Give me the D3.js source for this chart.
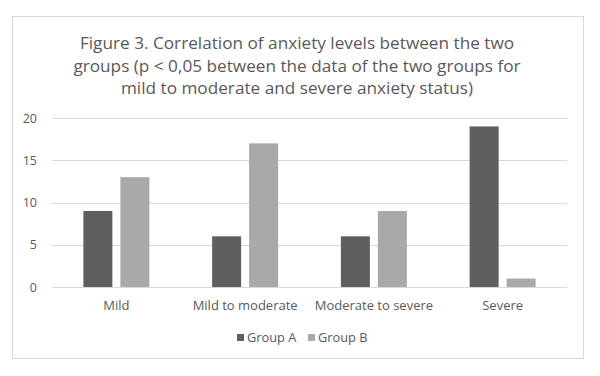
<!DOCTYPE html>
<html>
<head>
<meta charset="utf-8">
<script src="https://cdn.jsdelivr.net/npm/d3@7"></script>
<style>
  body { margin: 0; background: #fff; }
  svg { display: block; font-family: "Open Sans", "Noto Sans", sans-serif; }
</style>
</head>
<body>
<script>
// chart data
var categories = ['Mild', 'Mild to moderate', 'Moderate to severe', 'Severe'];
var groupA = [9, 6, 6, 19];
var groupB = [13, 17, 9, 1];
var seriesNames = ['Group A', 'Group B'];
var yTicks = [0, 5, 10, 15, 20];
var titleLines = [
    'Figure 3. Correlation of anxiety levels between the two',
    'groups (p < 0,05 between the data of the two groups for',
    'mild to moderate and severe anxiety status)'
];

var width = 600, height = 376;
var colors = ['#5f5f5f', '#a9a9a9'];
var textColor = '#595959';

var svg = d3.select(document.body).append('svg')
    .attr('width', width)
    .attr('height', height);

// chart area frame
svg.append('rect')
    .attr('x', 12.5).attr('y', 16.5)
    .attr('width', 571).attr('height', 342)
    .attr('fill', '#fff')
    .attr('stroke', '#d9d9d9');

// title
svg.append('g').selectAll('text')
    .data(titleLines)
    .enter().append('text')
    .attr('x', 297)
    .attr('y', function(d, i){ return 49 + i * 22.5; })
    .attr('text-anchor', 'middle')
    .attr('fill', textColor)
    .style('font-size', '17.2px')
    .text(function(d){ return d; });

var plot = {left: 52, right: 567, top: 118, bottom: 287};

var x0 = d3.scaleBand()
    .domain(categories)
    .range([plot.left, plot.right]);

var y = d3.scaleLinear()
    .domain([0, 20])
    .range([plot.bottom, plot.top]);

var barW = 29, barGap = 8;

// gridlines
svg.append('g').selectAll('line')
    .data(yTicks)
    .enter().append('line')
    .attr('x1', plot.left).attr('x2', plot.right)
    .attr('y1', function(d){ return Math.round(y(d)) + 0.5; })
    .attr('y2', function(d){ return Math.round(y(d)) + 0.5; })
    .attr('stroke', '#d9d9d9');

// y axis labels
var yAxis = d3.axisLeft(y).tickValues(yTicks).tickSize(0).tickPadding(0);
var yg = svg.append('g')
    .attr('transform', 'translate(37,0)')
    .call(yAxis);
yg.select('.domain').remove();
yg.selectAll('text')
    .attr('fill', textColor)
    .style('font-size', '12.5px')
    .style('font-family', '"Open Sans", sans-serif');

// bars
var rows = categories.map(function(c, i){ return {cat: c, vals: [groupA[i], groupB[i]]}; });

var groups = svg.append('g').selectAll('g')
    .data(rows)
    .enter().append('g')
    .attr('transform', function(d){ return 'translate(' + (x0(d.cat) + x0.bandwidth() / 2) + ',0)'; });

groups.selectAll('rect')
    .data(function(d){ return d.vals; })
    .enter().append('rect')
    .attr('x', function(d, i){ return i === 0 ? -barGap / 2 - barW : barGap / 2; })
    .attr('y', function(d){ return y(d); })
    .attr('width', barW)
    .attr('height', function(d){ return y(0) - y(d); })
    .attr('fill', function(d, i){ return colors[i]; });

// category labels
var xAxis = d3.axisBottom(x0).tickSize(0).tickPadding(0);
var xg = svg.append('g')
    .attr('transform', 'translate(0,' + 301 + ')')
    .call(xAxis);
xg.select('.domain').remove();
xg.selectAll('text')
    .attr('fill', textColor)
    .style('font-size', '13px')
    .style('font-family', '"Open Sans", sans-serif');

// legend
var legendX = [237, 308];
var legend = svg.append('g').selectAll('g')
    .data(seriesNames)
    .enter().append('g')
    .attr('transform', function(d, i){ return 'translate(' + legendX[i] + ',334)'; });
legend.append('rect')
    .attr('width', 7).attr('height', 7)
    .attr('fill', function(d, i){ return colors[i]; });
legend.append('text')
    .attr('x', 10).attr('y', 8)
    .attr('fill', textColor)
    .style('font-size', '12.8px')
    .text(function(d){ return d; });
</script>
</body>
</html>
